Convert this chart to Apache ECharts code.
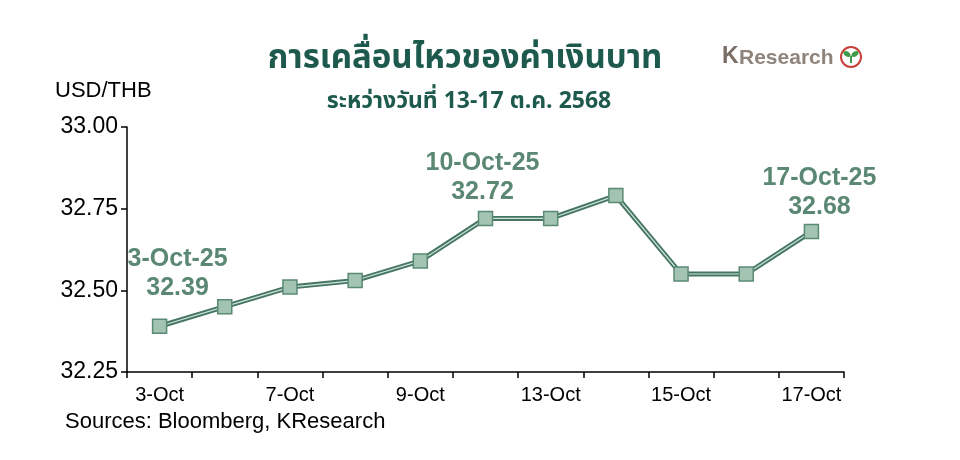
<!DOCTYPE html>
<html>
<head>
<meta charset="utf-8">
<title>USD/THB</title>
<script src="https://cdn.jsdelivr.net/npm/echarts@6/dist/echarts.min.js"></script>
<style>
  html, body { margin: 0; padding: 0; background: #fff; }
  #chart { width: 960px; height: 460px; }
</style>
</head>
<body>
<div id="chart"></div>
<script>
// trading days, 3-17 Oct 2025
const days = ['3-Oct', '6-Oct', '7-Oct', '8-Oct', '9-Oct', '10-Oct', '13-Oct', '14-Oct', '15-Oct', '16-Oct', '17-Oct'];
const rates = [32.39, 32.45, 32.51, 32.53, 32.59, 32.72, 32.72, 32.79, 32.55, 32.55, 32.68];
// annotated points
const noteIdx = [0, 5, 10];
const noteDates = ['3-Oct-25', '10-Oct-25', '17-Oct-25'];
const yTicks = [32.25, 32.50, 32.75, 33.00];

const titleText = 'การเคลื่อนไหวของค่าเงินบาท';
const subText = 'ระหว่างวันที่ 13-17 ต.ค. 2568';
const sourceText = 'Sources: Bloomberg, KResearch';

const font = '"Liberation Sans", Arial, sans-serif';
const thaiFont = '"Noto Sans Thai", "Noto Sans", "DejaVu Sans", sans-serif';
const green = '#457663';
const labelGreen = '#5b8873';

const noteOffsets = [[18, -14], [-3, -2], [8, 0]];

let chart = echarts.init(document.getElementById('chart'));

let seriesData = rates.map((v, i) => {
  let k = noteIdx.indexOf(i);
  if (k < 0) return v;
  return {
    value: v,
    label: {
      show: true,
      position: 'top',
      distance: 2,
      offset: noteOffsets[k],
      formatter: noteDates[k] + '\n' + v.toFixed(2)
    }
  };
});

chart.setOption({
  animation: false,
  grid: { left: 127, right: 116, top: 127, bottom: 88 },
  xAxis: {
    type: 'category',
    data: days,
    boundaryGap: true,
    axisLine: { lineStyle: { color: '#000', width: 1.5 } },
    axisTick: { show: true, length: 6, interval: 0, lineStyle: { color: '#000', width: 1.5 } },
    axisLabel: { interval: 1, color: '#000', fontSize: 20, fontFamily: font, margin: 13 },
    splitLine: { show: false }
  },
  yAxis: {
    type: 'value',
    min: yTicks[0],
    max: yTicks[yTicks.length - 1],
    interval: 0.25,
    axisLine: { show: true, lineStyle: { color: '#000', width: 1.5 } },
    axisTick: { show: true, length: 6, lineStyle: { color: '#000', width: 1.5 } },
    axisLabel: { color: '#000', fontSize: 23, fontFamily: font, margin: 9, formatter: v => v.toFixed(2) },
    splitLine: { show: false }
  },
  graphic: [
    { type: 'text', left: 55, top: 80, style: { text: 'USD/THB', fill: '#000', font: '22px ' + font } },
    { type: 'text', x: 465, y: 61, style: { text: titleText, fill: '#1d5a4d', font: 'bold 33px ' + thaiFont, textAlign: 'center', textVerticalAlign: 'middle' } },
    { type: 'text', x: 469, y: 103, style: { text: subText, fill: '#1d5a4d', font: 'bold 23px ' + thaiFont, textAlign: 'center', textVerticalAlign: 'middle' } },
    { type: 'text', x: 65, y: 422, style: { text: sourceText, fill: '#000', font: '22px ' + font, textVerticalAlign: 'middle' } },
    // KResearch logo
    { type: 'text', x: 722, y: 57, style: { text: 'K', fill: '#7a6e66', font: 'bold 23px ' + font, textVerticalAlign: 'middle' } },
    { type: 'text', x: 739, y: 58, style: { text: 'Research', fill: '#8f847c', font: 'bold 21px ' + font, textVerticalAlign: 'middle' } },
    { type: 'circle', shape: { cx: 851, cy: 57, r: 10 }, style: { fill: '#fff', stroke: '#c8403a', lineWidth: 2 } },
    { type: 'ellipse', shape: { cx: 847, cy: 54, rx: 4, ry: 2.5 }, rotation: -0.6, originX: 847, originY: 54, style: { fill: '#3f9a4a' } },
    { type: 'ellipse', shape: { cx: 855, cy: 54, rx: 4, ry: 2.5 }, rotation: 0.6, originX: 855, originY: 54, style: { fill: '#3f9a4a' } },
    { type: 'rect', shape: { x: 850, y: 56, width: 2, height: 7 }, style: { fill: '#3f9a4a' } }
  ],
  series: [
    {
      type: 'line',
      data: rates,
      symbol: 'none',
      z: 1,
      silent: true,
      lineStyle: { color: green, width: 5 }
    },
    {
      type: 'line',
      data: seriesData,
      symbol: 'rect',
      symbolSize: 14,
      z: 2,
      lineStyle: { color: '#cfe2d8', width: 1.2 },
      itemStyle: { color: '#a3c4b3', borderColor: '#5a8a74', borderWidth: 1.5 },
      label: { show: false, color: labelGreen, fontSize: 25, fontWeight: 'bold', fontFamily: font, lineHeight: 29, align: 'center' }
    }
  ]
});
</script>
</body>
</html>
